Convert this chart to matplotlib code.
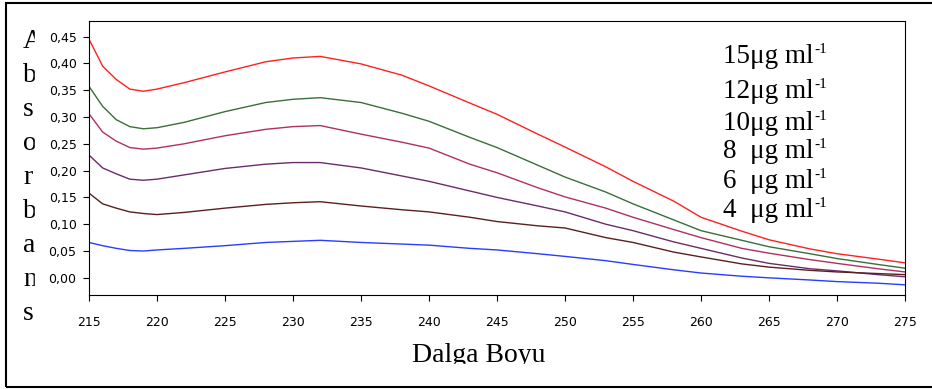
import numpy as np
import matplotlib
matplotlib.use("Agg")
import matplotlib.pyplot as plt
from matplotlib.patches import Rectangle
from matplotlib.ticker import FuncFormatter

# dalga boyu (nm)
wavelength = [215, 216, 217, 218, 219, 220, 222, 225, 228, 230, 232, 235, 238, 240,
              243, 245, 248, 250, 253, 255, 258, 260, 263, 265, 268, 270, 273, 275]

# absorbans degerleri, konsantrasyona gore
abs_15 = [0.445, 0.395, 0.370, 0.352, 0.348, 0.352, 0.364, 0.384, 0.403, 0.410, 0.413, 0.399, 0.378, 0.358,
          0.326, 0.305, 0.268, 0.244, 0.207, 0.180, 0.143, 0.113, 0.087, 0.071, 0.054, 0.045, 0.035, 0.028]
abs_12 = [0.357, 0.320, 0.295, 0.282, 0.278, 0.280, 0.290, 0.310, 0.327, 0.333, 0.336, 0.327, 0.307, 0.292,
          0.262, 0.243, 0.210, 0.188, 0.160, 0.138, 0.108, 0.088, 0.070, 0.058, 0.045, 0.036, 0.025, 0.018]
abs_10 = [0.306, 0.272, 0.255, 0.243, 0.240, 0.242, 0.250, 0.265, 0.277, 0.282, 0.284, 0.268, 0.253, 0.242,
          0.212, 0.196, 0.168, 0.151, 0.130, 0.113, 0.090, 0.075, 0.055, 0.046, 0.034, 0.027, 0.017, 0.011]
abs_8 = [0.229, 0.205, 0.194, 0.184, 0.182, 0.184, 0.192, 0.204, 0.212, 0.215, 0.215, 0.205, 0.190, 0.180,
         0.162, 0.150, 0.134, 0.123, 0.100, 0.088, 0.067, 0.055, 0.037, 0.027, 0.017, 0.013, 0.006, 0.002]
abs_6 = [0.158, 0.138, 0.130, 0.123, 0.120, 0.118, 0.122, 0.130, 0.137, 0.140, 0.142, 0.134, 0.127, 0.123,
         0.113, 0.105, 0.097, 0.093, 0.075, 0.066, 0.048, 0.039, 0.026, 0.020, 0.014, 0.011, 0.008, 0.006]
abs_4 = [0.066, 0.060, 0.055, 0.051, 0.050, 0.052, 0.055, 0.060, 0.066, 0.068, 0.070, 0.066, 0.063, 0.061,
         0.055, 0.052, 0.045, 0.040, 0.032, 0.025, 0.015, 0.009, 0.003, 0.000, -0.004, -0.007, -0.010, -0.013]

series = [abs_15, abs_12, abs_10, abs_8, abs_6, abs_4]
colors = ['#ff2020', '#3a6e3a', '#b03060', '#6a2c6a', '#5a2020', '#2a3cff']
labels = ['15μg ml', '12μg ml', '10μg ml', '8  μg ml', '6  μg ml', '4  μg ml']

W, H = 932, 389
fig = plt.figure(figsize=(W / 100, H / 100), dpi=100)
ax = fig.add_axes([89 / W, 1 - 295 / H, (905 - 89) / W, (295 - 21) / H])
ax.set_zorder(3)

for y, c in zip(series, colors):
    ax.plot(wavelength, y, color=c, lw=1.0)

ax.set_xlim(215, 275)
ax.set_ylim(-0.032, 0.479)
ax.set_xticks(np.arange(215, 276, 5))
ax.set_yticks(np.arange(0, 0.46, 0.05))
ax.yaxis.set_major_formatter(FuncFormatter(lambda v, p: f"{v:.2f}".replace('.', ',')))
ax.tick_params(direction='out', length=4, width=0.8, labelsize=9, colors='black')
ax.tick_params(axis='x', pad=11)
ax.tick_params(axis='y', pad=5)
for lab in ax.get_xticklabels() + ax.get_yticklabels():
    lab.set_family('DejaVu Sans')
for s in ax.spines.values():
    s.set_linewidth(0.8)

serif = 'Liberation Serif'

# dikey eksen yazisi, harf harf
for i, ch in enumerate("Absorbans"):
    fig.text(23 / W, 1 - (48 + 34 * i) / H, ch, family=serif, fontsize=20,
             va='baseline', ha='left', zorder=1)
fig.patches.append(Rectangle((35 / W, 1 - 300 / H), 53 / W, 278 / H,
                             transform=fig.transFigure, color='white', zorder=2))

fig.text(479 / W, 1 - 362 / H, "Dalga Boyu", family=serif, fontsize=20,
         va='baseline', ha='center', zorder=1)
fig.patches.append(Rectangle((400 / W, 1 - 384 / H), 170 / W, 20 / H,
                             transform=fig.transFigure, color='white', zorder=2))

# konsantrasyon etiketleri, ustteki -1 ayri kucuk yazi
baselines = [63, 98, 130, 158, 188, 217]
fig.canvas.draw()
renderer = fig.canvas.get_renderer()
for lab, b in zip(labels, baselines):
    t = fig.text(723 / W, 1 - b / H, lab, family=serif, fontsize=19.5,
                 va='baseline', ha='left', zorder=5)
    x_end = t.get_window_extent(renderer).x1
    fig.text(x_end / W + 0.5 / W, 1 - (b - 10) / H, "-1", family=serif, fontsize=11,
             va='baseline', ha='left', zorder=5)

# dis cerceve
fig.patches.append(Rectangle((6 / W, 1 - 387 / H), 940 / W, 384 / H,
                             transform=fig.transFigure, fill=False,
                             edgecolor='black', lw=1.5, zorder=6))

fig.savefig("out.png", dpi=100)
